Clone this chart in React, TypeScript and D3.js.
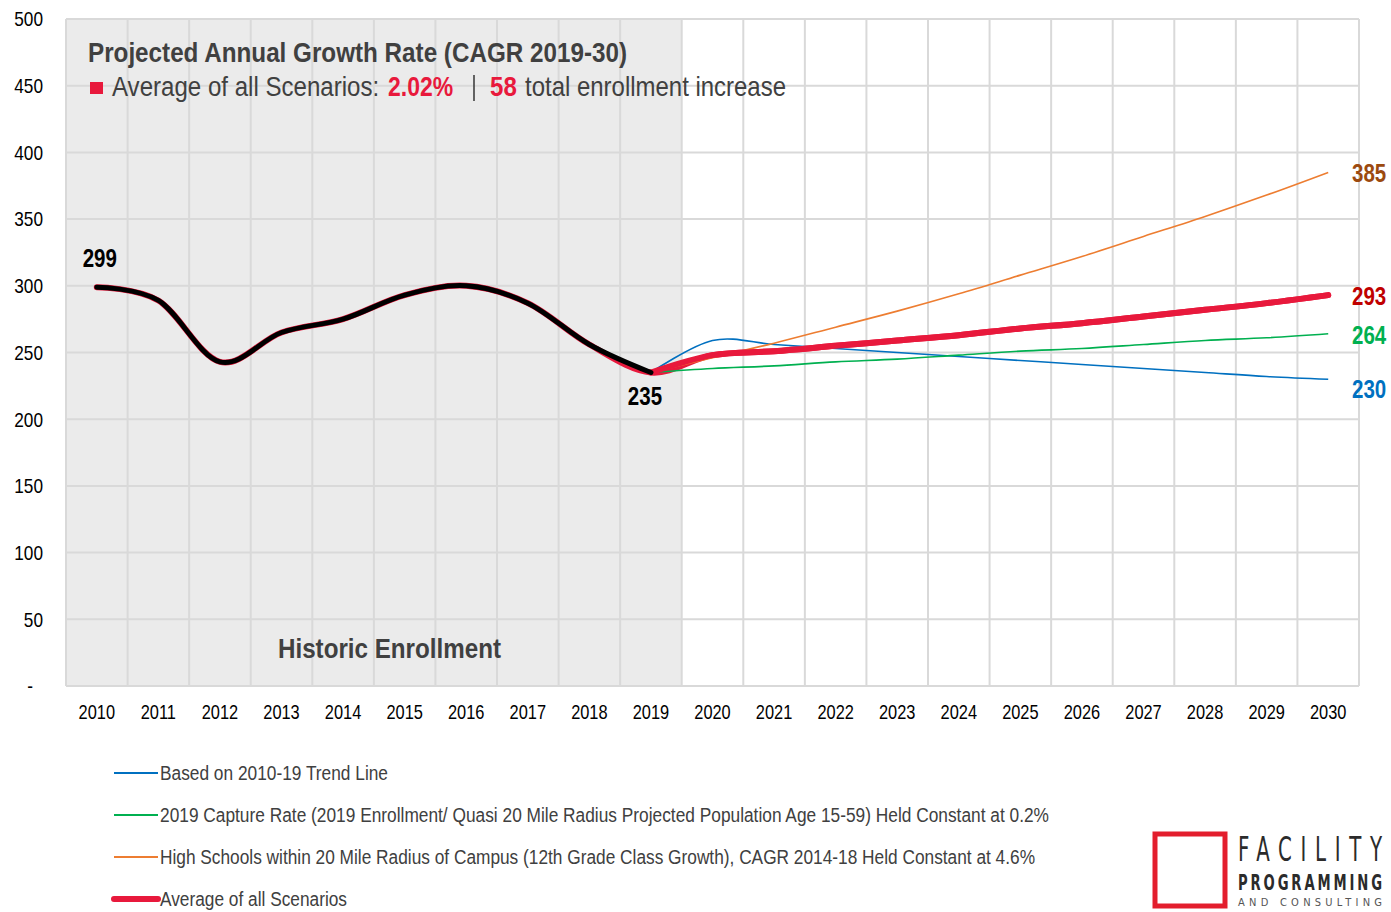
import React from "react";
import * as d3 from "d3";

const years = d3.range(2010, 2031).map(String);
const yTicks = [0, 50, 100, 150, 200, 250, 300, 350, 400, 450, 500];

const historic = [299, 289, 243, 265, 275, 293, 300, 287, 256, 235];
const projYears = ["2019", "2020", "2021", "2022", "2023", "2024", "2025", "2026", "2027", "2028", "2029", "2030"];
const trendLine = [235, 259, 256, 253, 250, 247, 244, 241, 238, 235, 232, 230];
const captureRate = [235, 238, 240, 243, 245, 248, 251, 253, 256, 259, 261, 264];
const highSchools = [235, 246, 257, 269, 281, 294, 308, 322, 337, 352, 368, 385];
const averageProj = [248, 251, 255, 259, 263, 268, 272, 277, 282, 287, 293];

const legendItems = [
  { label: "Based on 2010-19 Trend Line", color: "#0070C0", w: 2, len: 228 },
  { label: "2019 Capture Rate (2019 Enrollment/ Quasi 20 Mile Radius Projected Population Age 15-59) Held Constant at 0.2%", color: "#00B050", w: 2, len: 889 },
  { label: "High Schools within 20 Mile Radius of Campus (12th Grade Class Growth), CAGR 2014-18 Held Constant at 4.6%", color: "#ED7D31", w: 2, len: 875 },
  { label: "Average of all Scenarios", color: "#E8193C", w: 6, len: 187 },
];

const FONT = "'Liberation Sans', Arial, sans-serif";
const SX = 0.82;

function NText(props: { x: number; y: number; sx?: number; children: React.ReactNode; [k: string]: any }) {
  const { x, y, sx, children, ...rest } = props;
  return (
    <text transform={`translate(${x},${y}) scale(${sx ?? SX},1)`} x={0} y={0} {...rest}>
      {children}
    </text>
  );
}

export default function App() {
  const W = 1391, H = 912;
  const left = 66, right = 1359, top = 19, bottom = 686;
  const x = d3.scaleBand<string>().domain(years).range([left, right]).paddingInner(0).paddingOuter(0);
  const bw = x.bandwidth();
  const cx = (yr: string) => (x(yr) as number) + bw / 2;
  const y = d3.scaleLinear().domain([0, 500]).range([bottom, top]);

  const line = d3
    .line<[string, number]>()
    .x((d) => cx(d[0]))
    .y((d) => y(d[1]))
    .curve(d3.curveCatmullRom.alpha(0));

  const histYears = years.slice(0, 10);
  const histPts = histYears.map((yr, i) => [yr, historic[i]] as [string, number]);
  const avgPts = [...histPts, ...projYears.slice(1).map((yr, i) => [yr, averageProj[i]] as [string, number])];
  const mk = (vals: number[]) => projYears.map((yr, i) => [yr, vals[i]] as [string, number]);

  const gridColor = "#D9D9D9";
  const shadeEnd = x("2020") as number;
  const red = "#E8193C";

  return (
    <svg width={W} height={H} style={{ position: "absolute", left: 0, top: 0, background: "#fff" }} fontFamily={FONT}>
      <rect x={0} y={0} width={W} height={H} fill="#fff" />
      <rect x={left} y={top} width={shadeEnd - left} height={bottom - top} fill="#EBEBEB" />
      {yTicks.map((t) => (
        <line key={"h" + t} x1={left} x2={right} y1={y(t)} y2={y(t)} stroke={gridColor} strokeWidth={2} />
      ))}
      {years.map((yr) => (
        <line key={"v" + yr} x1={x(yr)} x2={x(yr)} y1={top} y2={bottom} stroke={gridColor} strokeWidth={2} />
      ))}
      <line x1={right} x2={right} y1={top} y2={bottom} stroke={gridColor} strokeWidth={2} />

      {yTicks.map((t) => (
        <NText key={"yt" + t} x={t === 0 ? 33 : 43} y={y(t)} dy="0.35em" textAnchor="end" fontSize={21} fill="#000">
          {t === 0 ? "-" : t}
        </NText>
      ))}
      {years.map((yr) => (
        <NText key={"xt" + yr} x={cx(yr)} y={719} textAnchor="middle" fontSize={20} fill="#000">
          {yr}
        </NText>
      ))}

      <text x={88} y={62} fontSize={28} fontWeight="bold" fill="#404040" textLength={539} lengthAdjust="spacingAndGlyphs">
        Projected Annual Growth Rate (CAGR 2019-30)
      </text>
      <rect x={90} y={82} width={13} height={12} fill={red} />
      <NText x={112} y={96} sx={0.86} fontSize={28} fill="#404040">
        Average of all Scenarios:
      </NText>
      <NText x={388} y={96} sx={0.82} fontSize={28} fontWeight="bold" fill={red}>
        2.02%
      </NText>
      <line x1={474} x2={474} y1={75} y2={101} stroke="#404040" strokeWidth={1.6} />
      <NText x={490} y={96} sx={0.86} fontSize={28} fontWeight="bold" fill={red}>
        58
      </NText>
      <text x={525} y={96} fontSize={28} fill="#404040" textLength={261} lengthAdjust="spacingAndGlyphs">
        total enrollment increase
      </text>
      <text x={278} y={658} fontSize={27} fontWeight="bold" fill="#404040" textLength={223} lengthAdjust="spacingAndGlyphs">
        Historic Enrollment
      </text>

      <path d={line(avgPts) || ""} fill="none" stroke={red} strokeWidth={6} strokeLinecap="round" />
      <path d={line(mk(trendLine)) || ""} fill="none" stroke="#0070C0" strokeWidth={1.6} />
      <path d={line(mk(captureRate)) || ""} fill="none" stroke="#00B050" strokeWidth={1.6} />
      <path d={line(mk(highSchools)) || ""} fill="none" stroke="#ED7D31" strokeWidth={1.6} />
      <path d={line(avgPts.slice(9)) || ""} fill="none" stroke={red} strokeWidth={6} strokeLinecap="round" />
      <path d={line(histPts) || ""} fill="none" stroke="#000" strokeWidth={5} strokeLinecap="round" />

      <NText x={cx("2010") + 3} y={267} fontSize={25} fontWeight="bold" textAnchor="middle" fill="#000">
        {historic[0]}
      </NText>
      <NText x={cx("2019") - 6} y={405} fontSize={25} fontWeight="bold" textAnchor="middle" fill="#000">
        {historic[9]}
      </NText>
      <NText x={1352} y={182} fontSize={25} fontWeight="bold" fill="#9C4A0F">{highSchools[11]}</NText>
      <NText x={1352} y={305} fontSize={25} fontWeight="bold" fill="#C00000">{averageProj[10]}</NText>
      <NText x={1352} y={344} fontSize={25} fontWeight="bold" fill="#00B050">{captureRate[11]}</NText>
      <NText x={1352} y={398} fontSize={25} fontWeight="bold" fill="#0070C0">{trendLine[11]}</NText>

      {legendItems.map((it, i) => (
        <g key={"lg" + i} transform={`translate(0, ${773 + i * 42})`}>
          <line x1={114} x2={158} y1={0} y2={0} stroke={it.color} strokeWidth={it.w} strokeLinecap={it.w > 3 ? "round" : "butt"} />
          <text x={160} y={0} dy="0.35em" fontSize={20} fill="#404040" textLength={it.len} lengthAdjust="spacingAndGlyphs">
            {it.label}
          </text>
        </g>
      ))}

      <g>
        <rect x={1155} y={834} width={70} height={72} fill="none" stroke="#E31E2D" strokeWidth={5} />
        <NText x={1238} y={861} sx={0.6} fontSize={33} fill="#2b2b2b" fontFamily="'DejaVu Sans', sans-serif" textLength={240} lengthAdjust="spacing">
          FACILITY
        </NText>
        <NText x={1238} y={890} sx={0.6} fontSize={22} fontWeight="bold" fill="#2b2b2b" fontFamily="'DejaVu Sans', sans-serif" textLength={240} lengthAdjust="spacing">
          PROGRAMMING
        </NText>
        <NText x={1238} y={906} sx={0.9} fontSize={11} fill="#555" fontFamily="'DejaVu Sans', sans-serif" textLength={160} lengthAdjust="spacing">
          AND CONSULTING
        </NText>
      </g>
    </svg>
  );
}
